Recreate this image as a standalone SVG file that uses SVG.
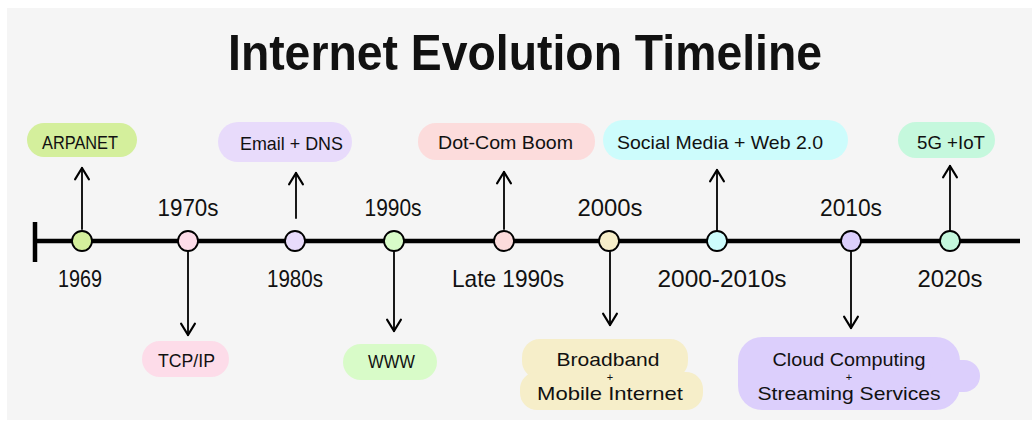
<svg xmlns="http://www.w3.org/2000/svg" width="1032" height="421" viewBox="0 0 1032 421">
<defs>
<marker id="arr" markerUnits="userSpaceOnUse" markerWidth="20" markerHeight="20" viewBox="-12 -8 14 16" refX="0" refY="0" orient="auto" overflow="visible">
<path d="M-9,-5.5 L0,0 L-9,5.5" fill="none" stroke="#000" stroke-width="1.8" stroke-linecap="round" stroke-linejoin="round"/>
</marker>
</defs>
<style>
.t{font-family:"Liberation Sans",Arial,sans-serif;fill:#111;}
.lbl{font-size:24px;text-anchor:middle;}
.pt{font-size:19px;text-anchor:middle;}
.plus{font-size:11px;text-anchor:middle;}
.node{stroke:#000;stroke-width:1.8;}
.arrow{stroke:#000;stroke-width:1.8;fill:none;marker-end:url(#arr);stroke-linecap:round;}
</style>
<rect x="0" y="0" width="1032" height="421" fill="#ffffff"/>
<rect x="7" y="8" width="1025" height="412" fill="#f5f5f5"/>
<text class="t" x="228" y="70" font-size="50" font-weight="bold" textLength="594" lengthAdjust="spacingAndGlyphs">Internet Evolution Timeline</text>

<g id="timeline">
<line x1="35" y1="241" x2="1020" y2="241" stroke="#000" stroke-width="4.5"/>
<line x1="35" y1="222" x2="35" y2="262" stroke="#000" stroke-width="4.5"/>
</g>

<g id="connectors">
<line class="arrow" x1="82" y1="229" x2="82" y2="168"/>
<line class="arrow" x1="296" y1="218" x2="296" y2="173"/>
<line class="arrow" x1="504" y1="229" x2="504" y2="172"/>
<line class="arrow" x1="717" y1="231" x2="717" y2="170"/>
<line class="arrow" x1="950" y1="231" x2="950" y2="166"/>
<line class="arrow" x1="188" y1="252" x2="188" y2="335"/>
<line class="arrow" x1="394" y1="252" x2="394" y2="331"/>
<line class="arrow" x1="610" y1="252" x2="610" y2="325"/>
<line class="arrow" x1="851" y1="252" x2="851" y2="328"/>
</g>

<g id="n1969">
<circle class="node" cx="82" cy="241" r="10" fill="#d4ef9c"/>
<text class="t lbl" x="80" y="287" textLength="44" lengthAdjust="spacingAndGlyphs">1969</text>
<rect x="27" y="123" width="110" height="34" rx="17" fill="#d4ef9c"/>
<text class="t pt" x="80" y="149" textLength="76" lengthAdjust="spacingAndGlyphs">ARPANET</text>
</g>

<g id="n1970s">
<circle class="node" cx="188" cy="241" r="10" fill="#fddce9"/>
<text class="t lbl" x="188" y="216" textLength="61" lengthAdjust="spacingAndGlyphs">1970s</text>
<rect x="142" y="341" width="87" height="36" rx="18" fill="#fddce9"/>
<text class="t pt" x="186.5" y="367" textLength="57" lengthAdjust="spacingAndGlyphs">TCP/IP</text>
</g>

<g id="n1980s">
<circle class="node" cx="295" cy="241" r="10" fill="#e8dbfb"/>
<text class="t lbl" x="295" y="287" textLength="56" lengthAdjust="spacingAndGlyphs">1980s</text>
<rect x="218" y="122" width="134" height="40" rx="20" fill="#e8dbfb"/>
<text class="t pt" x="291.5" y="150" textLength="103" lengthAdjust="spacingAndGlyphs">Email + DNS</text>
</g>

<g id="n1990s">
<circle class="node" cx="394" cy="241" r="10" fill="#d8fbc8"/>
<text class="t lbl" x="393" y="216" textLength="57" lengthAdjust="spacingAndGlyphs">1990s</text>
<rect x="343" y="344" width="94" height="36" rx="18" fill="#d8fbc8"/>
<text class="t pt" x="391.5" y="368" textLength="47" lengthAdjust="spacingAndGlyphs">WWW</text>
</g>

<g id="nLate1990s">
<circle class="node" cx="504" cy="241" r="10" fill="#fcdcdc"/>
<text class="t lbl" x="508" y="287" textLength="112" lengthAdjust="spacingAndGlyphs">Late 1990s</text>
<rect x="418" y="123" width="177" height="37" rx="18" fill="#fcdcdc"/>
<text class="t pt" x="505.5" y="149" textLength="135" lengthAdjust="spacingAndGlyphs">Dot-Com Boom</text>
</g>

<g id="n2000s">
<circle class="node" cx="609" cy="241" r="10" fill="#f6eec9"/>
<text class="t lbl" x="610" y="216" textLength="65" lengthAdjust="spacingAndGlyphs">2000s</text>
<rect x="522" y="339" width="166" height="40" rx="18" fill="#f6eec9"/>
<rect x="520" y="372" width="183" height="38" rx="17" fill="#f6eec9"/>
<text class="t pt" x="608" y="366" textLength="103" lengthAdjust="spacingAndGlyphs">Broadband</text>
<text class="t plus" x="610" y="380.5">+</text>
<text class="t pt" x="610" y="400" textLength="146" lengthAdjust="spacingAndGlyphs">Mobile Internet</text>
</g>

<g id="n2000-2010s">
<circle class="node" cx="717" cy="241" r="10" fill="#cdfcfc"/>
<text class="t lbl" x="722" y="287" textLength="129" lengthAdjust="spacingAndGlyphs">2000-2010s</text>
<rect x="603" y="120" width="245" height="40" rx="20" fill="#cdfcfc"/>
<text class="t pt" x="720" y="149" textLength="206" lengthAdjust="spacingAndGlyphs">Social Media + Web 2.0</text>
</g>

<g id="n2010s">
<circle class="node" cx="851" cy="241" r="10" fill="#dccffc"/>
<text class="t lbl" x="851" y="216" textLength="62" lengthAdjust="spacingAndGlyphs">2010s</text>
<rect x="738" y="337" width="222" height="73" rx="24" fill="#dccffc"/>
<rect x="930" y="360" width="50" height="32" rx="16" fill="#dccffc"/>
<text class="t pt" x="849" y="366" textLength="153" lengthAdjust="spacingAndGlyphs">Cloud Computing</text>
<text class="t plus" x="849" y="380.5">+</text>
<text class="t pt" x="849" y="400" textLength="183" lengthAdjust="spacingAndGlyphs">Streaming Services</text>
</g>

<g id="n2020s">
<circle class="node" cx="950" cy="241" r="10" fill="#c5f8dd"/>
<text class="t lbl" x="950" y="287" textLength="65" lengthAdjust="spacingAndGlyphs">2020s</text>
<rect x="898" y="122" width="97" height="36" rx="18" fill="#c5f8dd"/>
<text class="t pt" x="951" y="149" textLength="68" lengthAdjust="spacingAndGlyphs">5G +IoT</text>
</g>
</svg>
